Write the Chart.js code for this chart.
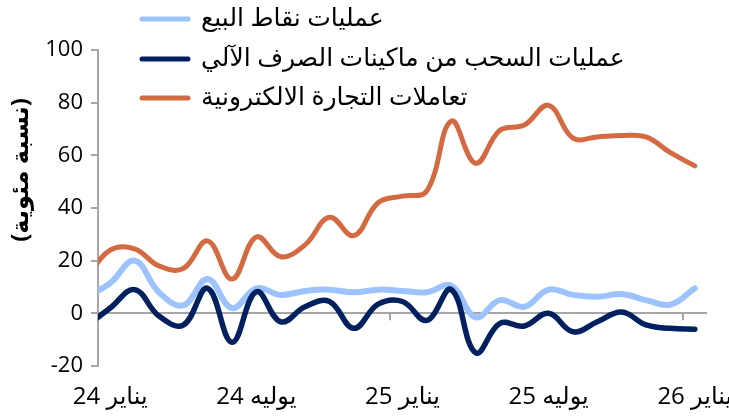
<!DOCTYPE html>
<html>
<head>
<meta charset="utf-8">
<script src="https://cdn.jsdelivr.net/npm/chart.js@4.4.0/dist/chart.umd.min.js"></script>
<style>
html,body{margin:0;padding:0;background:#fff;}
#wrap{width:729px;height:417px;position:relative;}
</style>
</head>
<body>
<div id="wrap"><canvas id="c" width="729" height="417"></canvas></div>
<script>
// Monthly categories (Dec 2023 .. Jan 2026); first point lies left of the axis and is clipped
const months = ['ديسمبر 23','يناير 24','فبراير 24','مارس 24','أبريل 24','مايو 24','يونيو 24','يوليه 24','أغسطس 24','سبتمبر 24','أكتوبر 24','نوفمبر 24','ديسمبر 24',
  'يناير 25','فبراير 25','مارس 25','أبريل 25','مايو 25','يونيو 25','يوليه 25','أغسطس 25','سبتمبر 25','أكتوبر 25','نوفمبر 25','ديسمبر 25','يناير 26'];
const tickIndex = [1, 7, 13, 19, 25];
const tickLabels = ['يناير 24','يوليه 24','يناير 25','يوليه 25','يناير 26'];
const yearTickPositions = [12.5, 24.5];
const seriesNames = ['عمليات نقاط البيع','عمليات السحب من ماكينات الصرف الآلي','تعاملات التجارة الالكترونية'];
const yTitle = '(نسبة مئوية)';

const posValues  = [6, 11.5, 20, 8, 3, 13, 2, 9.5, 7, 8.5, 9, 8, 9, 8.5, 8, 10.5, -1.5, 5, 2.5, 9, 7, 6.3, 7.3, 5, 3.3, 9.5];
const atmValues  = [-5, 2, 9, -1, -4.5, 9.5, -11, 8.2, -3.2, 2.5, 4.5, -5.7, 3.5, 4.5, -2.7, 9, -15, -3.8, -4.8, 0, -7, -3.2, 0.5, -4.4, -5.7, -6];
const ecomValues = [13, 24, 24.5, 18, 17, 27.5, 13, 29, 21.5, 26, 36.5, 29.5, 42, 44.5, 46.5, 73, 57, 69.5, 71.5, 79, 66.5, 67, 67.5, 67, 61, 56];

const colors = ['#9DC3FF', '#002060', '#D46A42'];
const widths = [6, 5.5, 5];
const FONT = '"Open Sans", "Noto Sans", "DejaVu Sans", sans-serif';
const AXIS_GRAY = '#A6A6A6';

const toPoints = arr => arr.map((v, i) => ({x: i, y: v}));

const decor = {
  id: 'decor',
  beforeDatasetsDraw(chart) {
    const ctx = chart.ctx, xs = chart.scales.x, ys = chart.scales.y;
    const y0 = ys.getPixelForValue(0);
    ctx.save();
    ctx.strokeStyle = AXIS_GRAY;
    ctx.lineWidth = 2;
    yearTickPositions.forEach(p => {
      const xp = Math.round(xs.getPixelForValue(p));
      ctx.beginPath();
      ctx.moveTo(xp, y0);
      ctx.lineTo(xp, y0 + 7);
      ctx.stroke();
    });
    ctx.restore();
  },
  afterDraw(chart) {
    const ctx = chart.ctx;
    ctx.save();
    // legend
    const rows = [19, 59, 98];
    chart.data.datasets.forEach((ds, i) => {
      ctx.strokeStyle = ds.borderColor;
      ctx.lineWidth = 5;
      ctx.lineCap = 'round';
      ctx.beginPath();
      ctx.moveTo(142, rows[i]);
      ctx.lineTo(188, rows[i]);
      ctx.stroke();
      ctx.fillStyle = '#000';
      ctx.font = '25px ' + FONT;
      ctx.textAlign = 'left';
      ctx.textBaseline = 'middle';
      ctx.fillText(ds.label, 201, rows[i]);
    });
    // y title
    ctx.translate(21, 170);
    ctx.rotate(-Math.PI / 2);
    ctx.font = 'bold 24px ' + FONT;
    ctx.textAlign = 'center';
    ctx.textBaseline = 'middle';
    ctx.fillStyle = '#000';
    ctx.fillText(yTitle, 0, 0);
    ctx.restore();
  }
};

const series = [posValues, atmValues, ecomValues];
new Chart(document.getElementById('c'), {
  type: 'line',
  data: {
    datasets: series.map((arr, i) => ({
      label: seriesNames[i],
      data: toPoints(arr),
      borderColor: colors[i],
      backgroundColor: colors[i],
      borderWidth: widths[i],
      pointRadius: 0,
      tension: 0.4,
      fill: false,
      clip: {left: 0, top: false, right: false, bottom: false},
      borderCapStyle: 'round',
      borderJoinStyle: 'round',
      order: 3 - i
    }))
  },
  options: {
    responsive: false,
    devicePixelRatio: 1,
    animation: false,
    layout: {padding: {top: 50, right: 22, left: 0, bottom: 0}},
    plugins: {legend: {display: false}, tooltip: {enabled: false}},
    scales: {
      x: {
        type: 'linear',
        min: 0.5,
        max: 25.5,
        afterBuildTicks: s => { s.ticks = tickIndex.map(v => ({value: v})); },
        afterFit: s => { s.height = 51; s.paddingLeft = 0; s.paddingRight = 0; },
        ticks: {
          autoSkip: false,
          maxRotation: 0,
          padding: 17,
          color: '#000',
          font: {family: FONT, size: 24},
          callback: v => tickLabels[tickIndex.indexOf(v)]
        },
        grid: {display: false, drawTicks: false},
        border: {display: false}
      },
      y: {
        min: -20,
        max: 100,
        afterFit: s => { s.width = 98; s.paddingTop = 0; s.paddingBottom = 0; },
        ticks: {stepSize: 20, padding: 8, color: '#000', font: {family: FONT, size: 22}},
        grid: {
          color: c => (c.tick && c.tick.value === 0) ? AXIS_GRAY : 'rgba(0,0,0,0)',
          lineWidth: 2,
          tickColor: AXIS_GRAY,
          tickLength: 7,
          drawTicks: true
        },
        border: {display: true, color: AXIS_GRAY, width: 2}
      }
    }
  },
  plugins: [decor]
});
</script>
</body>
</html>
